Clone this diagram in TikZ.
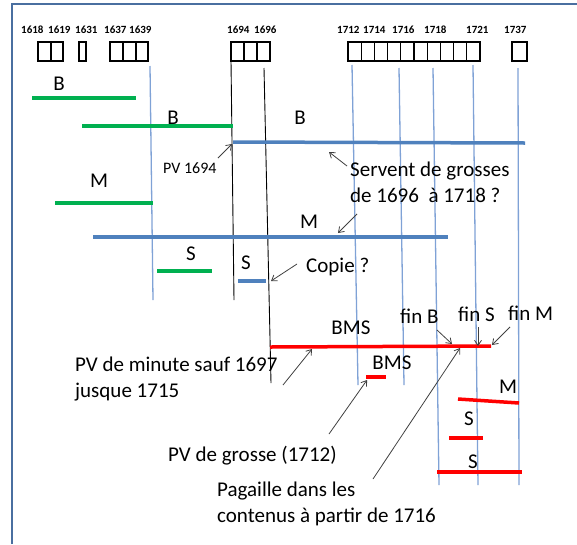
\documentclass[tikz,border=0pt]{standalone}
\usepackage{fontspec}
\setmainfont{Carlito}
\usepackage{tikz}
\usetikzlibrary{arrows.meta}
\definecolor{barblue}{HTML}{4F81BD}
\definecolor{gridblue}{HTML}{7FA2D6}
\definecolor{bargreen}{HTML}{00B050}
\definecolor{frameblue}{HTML}{4A6FA0}

\begin{document}
\begin{tikzpicture}[
  x=1pt, y=-1pt,
  >={Straight Barb[length=5pt,width=7pt]},
  font=\fontsize{21}{26}\selectfont,
  bar/.style={line width=3.5pt},
  grid/.style={gridblue, line width=1.3pt},
  era/.style={black, line width=0.9pt},
  note/.style={->, black!75, line width=0.8pt},
  lbl/.style={inner sep=0pt, anchor=base},
  txt/.style={inner sep=0pt, anchor=base west, align=left},
  year/.style={inner sep=0pt, anchor=base west, font=\bfseries\fontsize{11}{13}\selectfont},
  cell/.style={black, line width=1.2pt}
]
  \useasboundingbox (0,0) rectangle (577,544);
  \draw[frameblue, line width=2pt] (12,544) -- (12,4) -- (577,4);

  % annees et cases
  \foreach \x/\yr in {21/1618, 48/1619, 75/1631, 104/1637, 129/1639,
                      227/1694, 254/1696, 337/1712, 363/1714, 392/1716,
                      424/1718, 466/1721, 504/1737}
    \node[year] (y\yr) at (\x,33) {\yr};
  \foreach \a/\b in {38/51, 51/63, 79/86, 110/123, 123/136, 136/148,
                     231/244, 244/257, 257/270, 512/527}
    \draw[cell] (\a,42) rectangle (\b,61);
  \foreach \i in {0,...,9}
    \draw[cell] ({348+13.2*\i},42) rectangle ({361.2+13.2*\i},61);

  \draw[grid] (150,66) -- (153,300);
  \draw[grid] (352,65) -- (358,385);
  \draw[grid] (399,68) -- (404,385);
  \draw[grid] (433,68) -- (439,485);
  \draw[grid] (473,65) -- (478,485);
  \draw[grid] (518,68) -- (519,485);
  \draw[era] (231,61) -- (234,300);
  \draw[era] (264,68) -- (271,383);

  \draw[bar, bargreen] (32,98) -- (136,98);
  \draw[bar, bargreen] (82,126) -- (233,126);
  \draw[bar, bargreen] (55,203) -- (153,203);
  \draw[bar, bargreen] (157,271) -- (212,271);
  \draw[bar, barblue] (233,142) -- (525,143);
  \draw[bar, barblue] (93,237) -- (448,237);
  \draw[bar, barblue] (238,281) -- (266,281);
  \draw[bar, red] (270,347) -- (491,346);
  \draw[bar, red] (366,377) -- (386,377);
  \draw[bar, red] (458,399) -- (519,403);
  \draw[bar, red] (449,438) -- (483,438);
  \draw[bar, red] (437,472) -- (522,472);

  \node[lbl] (bA) at (59,90) {B};
  \node[lbl] (bB) at (173,124) {B};
  \node[lbl] (bC) at (300,124) {B};
  \node[lbl] (mA) at (99,187) {M};
  \node[lbl] (mB) at (309,228) {M};
  \node[lbl] (sA) at (191,260) {S};
  \node[lbl] (sB) at (246,269) {S};
  \node[lbl] (bmsA) at (351,334) {BMS};
  \node[lbl] (bmsB) at (392,369) {BMS};
  \node[lbl] (mC) at (508,393) {M};
  \node[lbl] (sC) at (469,425) {S};
  \node[lbl] (sD) at (473,468) {S};

  % base = derniere ligne pour les textes sur deux lignes
  \node[txt, font=\fontsize{16}{19}\selectfont] (pv94) at (163,173) {PV 1694};
  \node[txt] (servent) at (350,202) {Servent de grosses\\de 1696~ à 1718 ?};
  \node[txt] (copie) at (306,272) {Copie ?};
  \node[txt] (pvmin) at (75,397) {PV de minute sauf 1697\\jusque 1715};
  \node[txt] (finB) at (400,323) {fin B};
  \node[txt] (finS) at (458,321) {fin S};
  \node[txt] (finM) at (508,320) {fin M};
  \node[txt] (pvgrosse) at (168,461) {PV de grosse (1712)};
  \node[txt] (pagaille) at (217,522) {Pagaille dans les\\contenus à partir de 1716};

  \coordinate (pv94a) at (218,158);   \coordinate (pv94b) at (232,144);
  \coordinate (serva) at (347,166);   \coordinate (servb) at (329,152);
  \coordinate (mbla) at (357,214);    \coordinate (mblb) at (338,233);
  \coordinate (copa) at (297,264);    \coordinate (copb) at (271,281);
  \coordinate (pvma) at (283,385);    \coordinate (pvmb) at (312,349);
  \coordinate (finBa) at (437,330);   \coordinate (finBb) at (452,344);
  \coordinate (finSa) at (478,327);   \coordinate (finSb) at (478,346);
  \coordinate (finMa) at (510,327);   \coordinate (finMb) at (492,345);
  \coordinate (pvga) at (329,434);    \coordinate (pvgb) at (367,380);
  \coordinate (paga) at (373,479);    \coordinate (pagb) at (460,348);
  \draw[note] (pv94a) -- (pv94b);
  \draw[note] (serva) -- (servb);
  \draw[note] (mbla) -- (mblb);
  \draw[note] (copa) -- (copb);
  \draw[note] (pvma) -- (pvmb);
  \draw[note] (finBa) -- (finBb);
  \draw[note] (finSa) -- (finSb);
  \draw[note] (finMa) -- (finMb);
  \draw[note] (pvga) -- (pvgb);
  \draw[note] (paga) -- (pagb);
\end{tikzpicture}
\end{document}
